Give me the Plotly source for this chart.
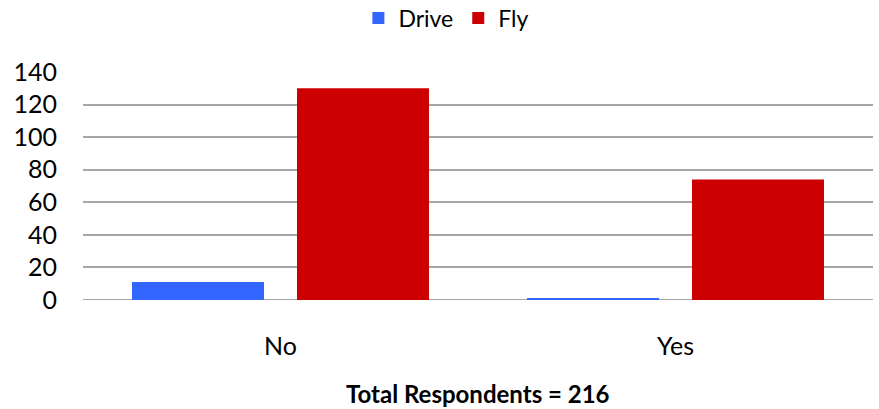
import plotly.graph_objects as go

categories = ["No", "Yes"]
drive = [11, 1]
fly = [130, 74]
y_ticks = [0, 20, 40, 60, 80, 100, 120, 140]
footer = "Total Respondents = 216"

FONT = "Lato, 'Open Sans', sans-serif"

fig = go.Figure()
fig.add_trace(go.Bar(name="Drive", x=categories, y=drive, marker=dict(color="#3366FF", line=dict(width=0))))
fig.add_trace(go.Bar(name="Fly", x=categories, y=fly, marker=dict(color="#CC0000", line=dict(width=0))))

fig.update_layout(
    width=879, height=409,
    margin=dict(l=83, r=6, t=72, b=109, autoexpand=False),
    paper_bgcolor="white", plot_bgcolor="white",
    barmode="group", bargap=0.1646, bargroupgap=0.2,
    font=dict(family=FONT, size=23, color="black"),
    legend=dict(orientation="h", x=0.46, xanchor="center", y=1.237, yanchor="middle",
                font=dict(size=23), itemwidth=30, traceorder="normal"),
    showlegend=True,
)
fig.update_yaxes(range=[0, 140], tickvals=y_ticks, showgrid=True, gridcolor="#A6A6A6", gridwidth=2,
                 zeroline=False, showline=False, ticks="outside", ticklen=20, tickcolor="rgba(0,0,0,0)",
                 tickfont=dict(size=25), automargin=False)
fig.update_xaxes(showline=False, showgrid=False, ticks="outside", ticklen=24, tickcolor="rgba(0,0,0,0)",
                 tickfont=dict(size=25), automargin=False)
fig.add_shape(type="line", xref="paper", yref="y", x0=0, x1=1, y0=0, y1=0,
              line=dict(color="#A6A6A6", width=2), layer="below")
fig.add_annotation(text="<b>" + footer + "</b>", xref="paper", yref="paper", x=0.5, y=0,
                   yshift=-93, showarrow=False, font=dict(size=24, color="black"), yanchor="middle")

fig.write_html("out.html", config={"displayModeBar": False},
               post_script="document.body.style.margin='0';")
